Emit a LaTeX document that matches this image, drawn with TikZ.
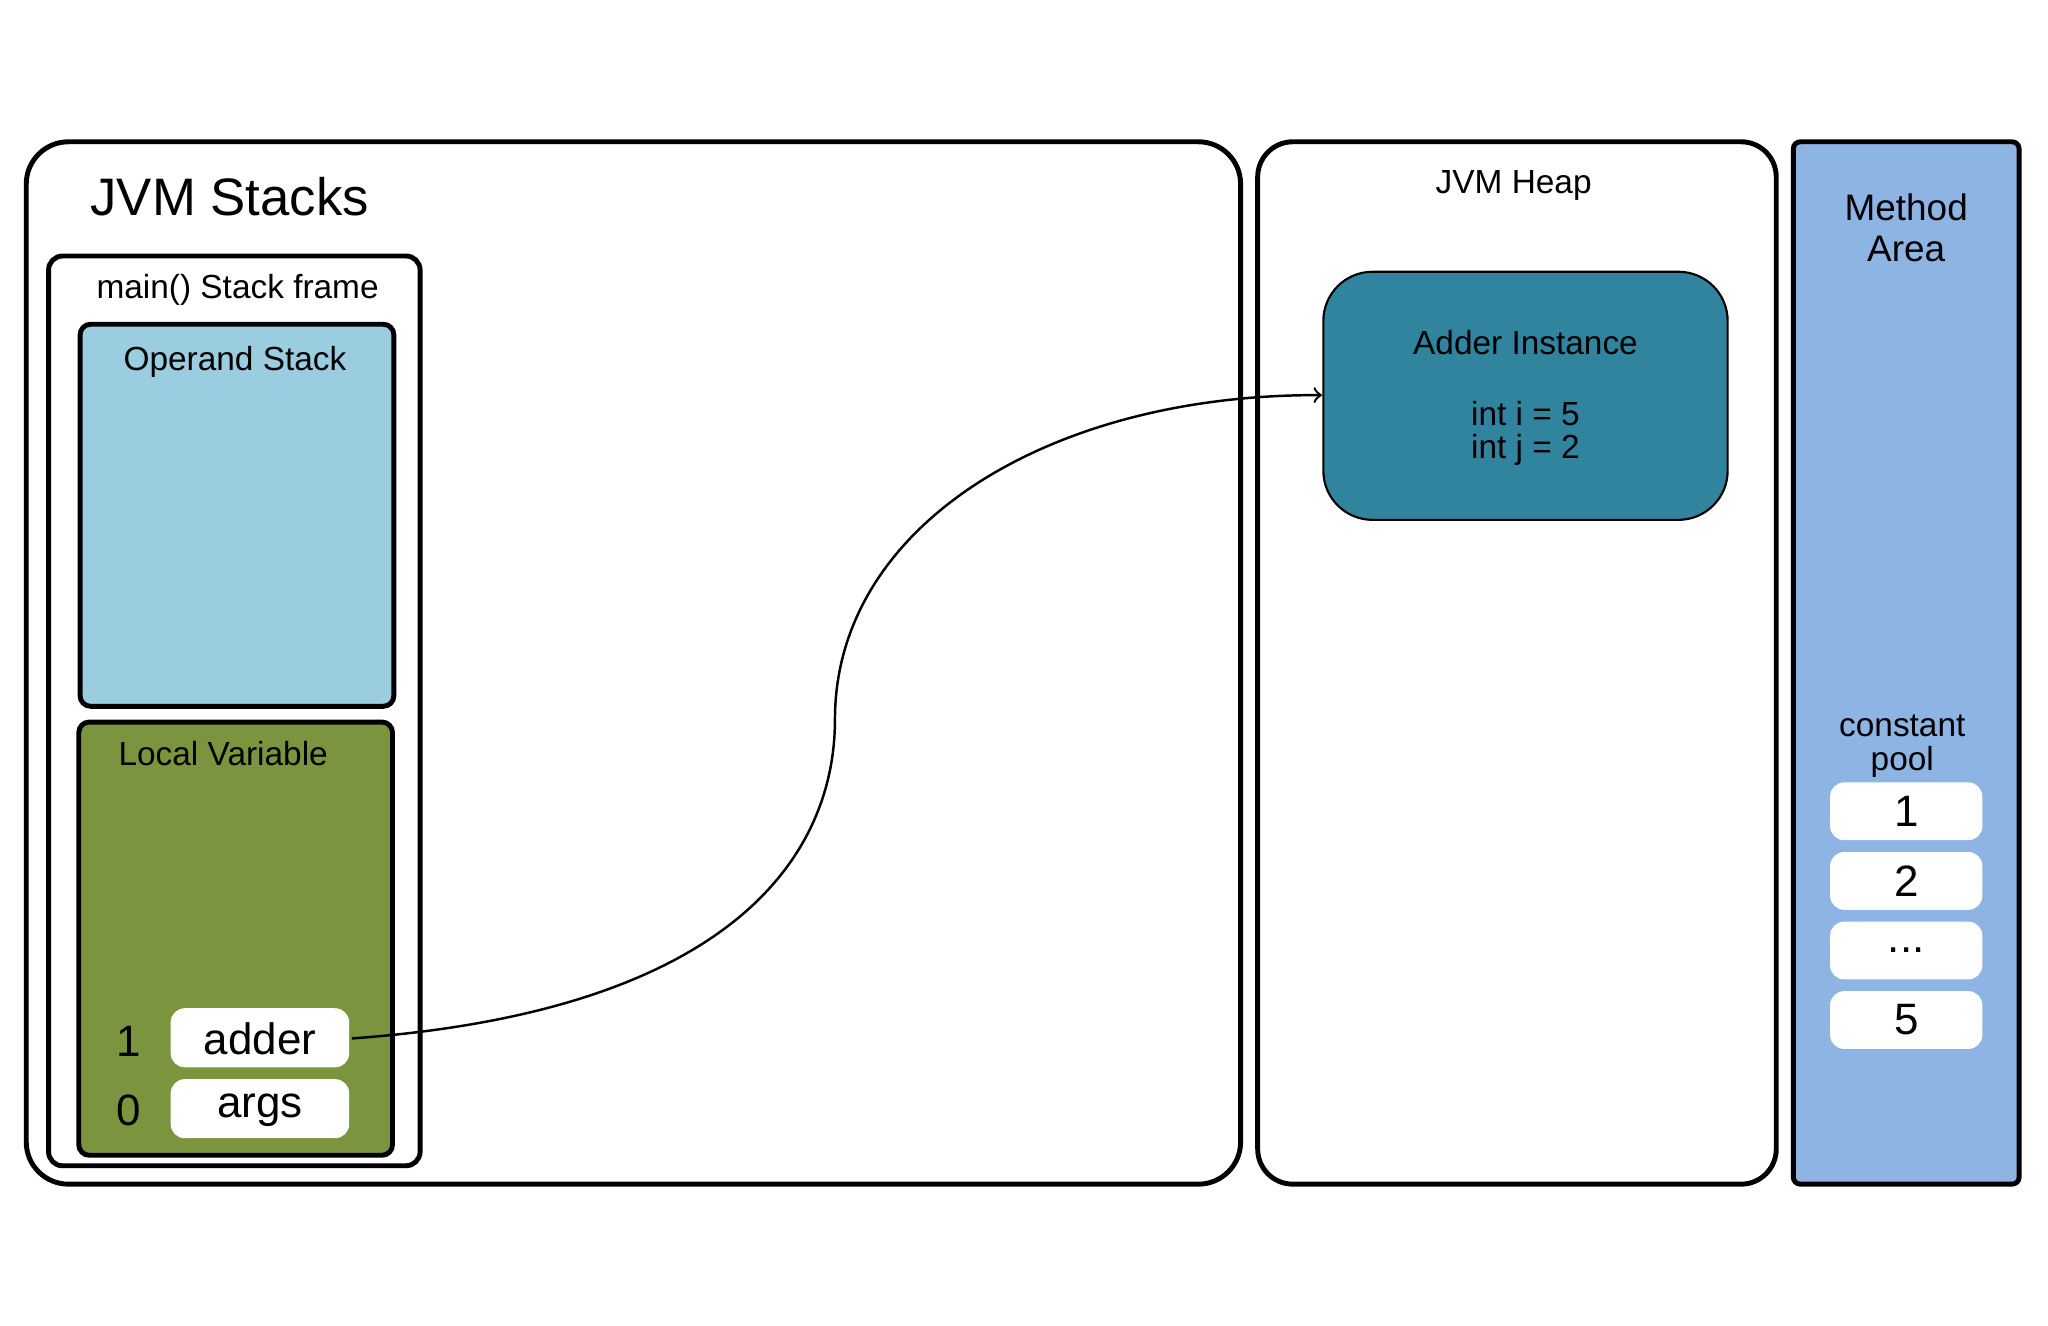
\documentclass[tikz,border=0pt]{standalone}
\usepackage{fontspec}
\setmainfont{Liberation Sans}
\begin{document}
\begin{tikzpicture}[x=0.013128cm,y=-0.013128cm,
  thickbox/.style={draw=black,line width=1.4pt},
  lbl/.style={font=\fontsize{9.5}{11}\selectfont,inner sep=0pt},
  big/.style={font=\fontsize{12.5}{14}\selectfont,inner sep=0pt},
  slot/.style={fill=white,draw=none,rounded corners=4pt}]
\useasboundingbox (0,0) rectangle (1560,1010);
% JVM stacks
\draw[thickbox,rounded corners=12pt] (20,108) rectangle (945,902);
\node[inner sep=0pt,font=\fontsize{15}{18}\selectfont] (stt) at (175,150) {JVM Stacks};
\draw[thickbox,rounded corners=4pt] (37,195) rectangle (320,888);
\node[lbl] (mf) at (181,221) {main() Stack frame};
\draw[thickbox,rounded corners=3pt,fill={rgb,255:red,154;green,205;blue,224}] (61,247) rectangle (300,538);
\node[lbl] (os) at (179,276) {Operand Stack};
\draw[thickbox,rounded corners=3pt,fill={rgb,255:red,122;green,149;blue,61}] (60,550) rectangle (299,880);
\node[lbl] (lv) at (170,574) {Local Variable};
\path[slot] (130,768) rectangle (266,813);
\path[slot] (130,822) rectangle (266,867);
\node[big] (adder) at (198,791) {adder};
\coordinate (ae) at (268,791);
\node[big] (args) at (198,846) {args};
\node[big] (n1) at (98,793) {1};
\node[big] (n0) at (98,846) {0};
% Heap
\draw[thickbox,rounded corners=10pt] (958,108) rectangle (1353,902);
\node[lbl] (heap) at (1153,141) {JVM Heap};
\draw[line width=0.6pt,rounded corners=14pt,fill={rgb,255:red,49;green,132;blue,158}] (1008,207) rectangle (1316,396);
\coordinate (iw) at (1007,301);
\node[lbl] (ai) at (1162,261) {Adder Instance};
\node[lbl] (ii) at (1162,315) {int i = 5};
\node[lbl] (ij) at (1162,343) {int j = 2};
% Method area
\draw[thickbox,rounded corners=2pt,fill={rgb,255:red,142;green,180;blue,227}] (1366,108) rectangle (1538,902);
\node[lbl,font=\fontsize{10.5}{12}\selectfont] (ma1) at (1452,158) {Method};
\node[lbl,font=\fontsize{10.5}{12}\selectfont] (ma2) at (1452,190) {Area};
\node[lbl] (cp1) at (1449,553) {constant};
\node[lbl] (cp2) at (1449,580) {pool};
\foreach \t/\y in {1/596,2/649,{...}/702,5/755}{
  \path[slot] (1394,\y) rectangle (1510,\y+44);
  \node[big] at (1452,\y+22) {\t};
}
\draw[line width=0.7pt,->] (ae) .. controls (560,770) and (636,650) .. (636,548)
   .. controls (636,400) and (800,300) .. (iw);
\end{tikzpicture}
\end{document}
